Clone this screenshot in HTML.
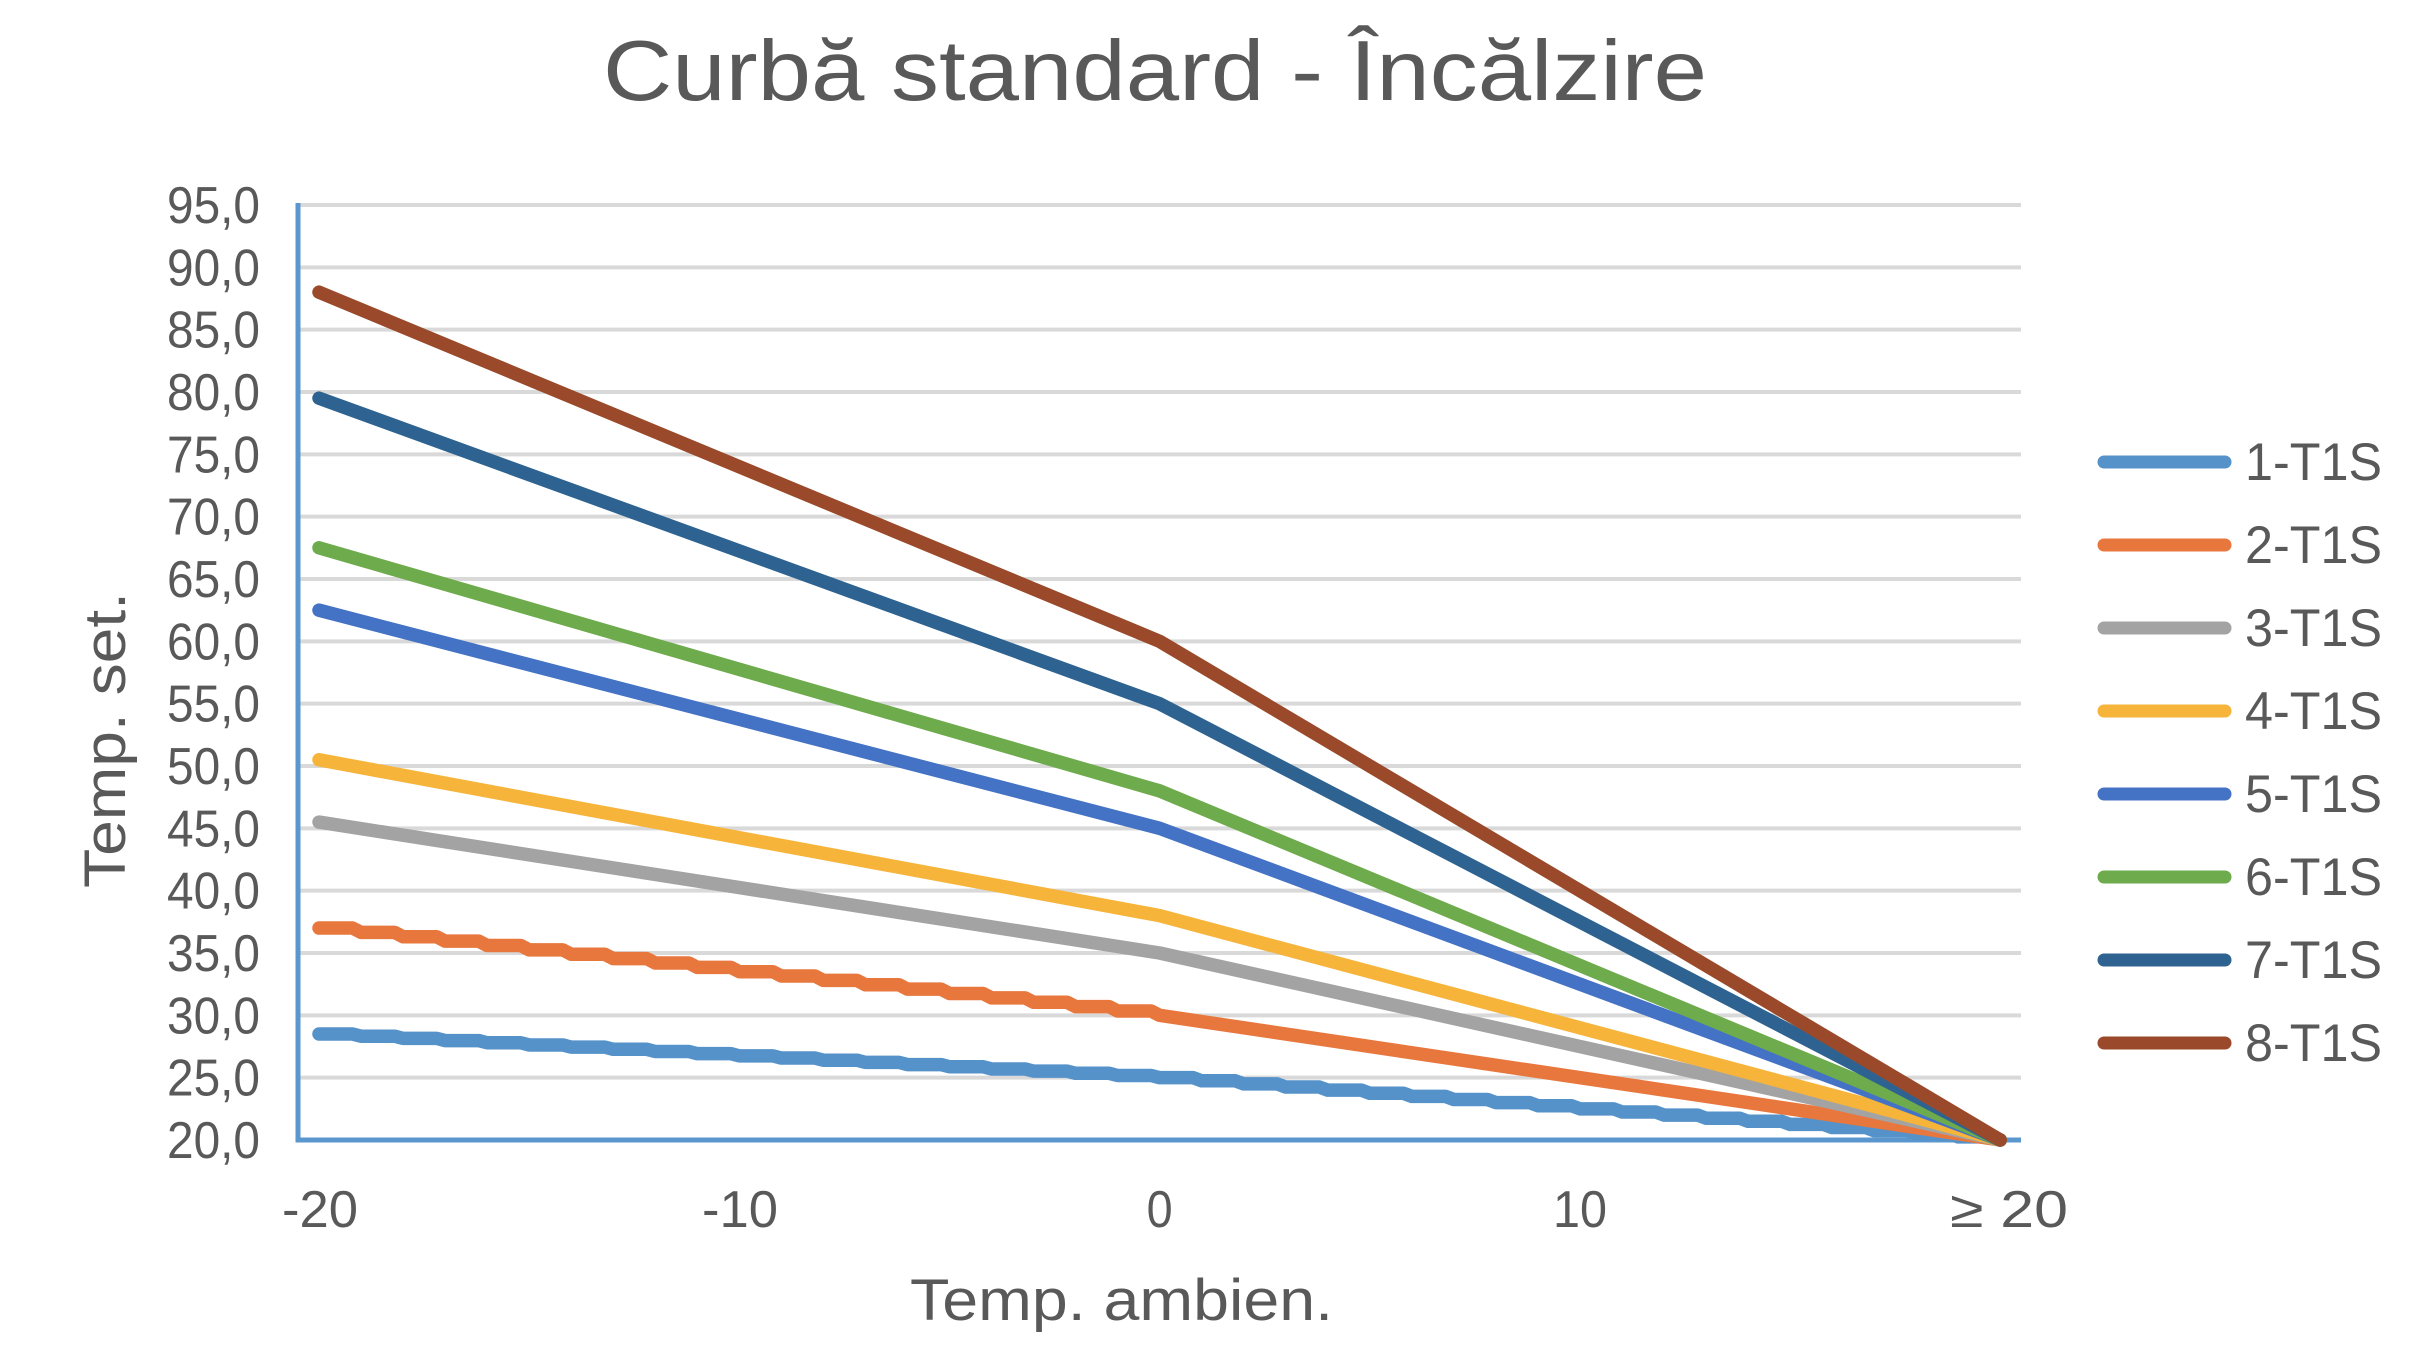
<!DOCTYPE html>
<html>
<head>
<meta charset="utf-8">
<style>
  html,body{margin:0;padding:0;background:#fff;}
  svg{display:block;}
  text{font-family:"Liberation Sans","DejaVu Sans",sans-serif;fill:#595959;}
</style>
</head>
<body>
<svg width="2423" height="1363" viewBox="0 0 2423 1363" xmlns="http://www.w3.org/2000/svg">
  <rect x="0" y="0" width="2423" height="1363" fill="#ffffff"/>

  <!-- Title -->
  <text x="603" y="100" font-size="85" textLength="1104" lengthAdjust="spacingAndGlyphs">Curbă standard - Încălzire</text>

  <!-- Gridlines -->
  <g stroke="#D9D9D9" stroke-width="4">
    <line x1="298" y1="1077.67" x2="2021" y2="1077.67"/>
    <line x1="298" y1="1015.33" x2="2021" y2="1015.33"/>
    <line x1="298" y1="953" x2="2021" y2="953"/>
    <line x1="298" y1="890.67" x2="2021" y2="890.67"/>
    <line x1="298" y1="828.33" x2="2021" y2="828.33"/>
    <line x1="298" y1="766" x2="2021" y2="766"/>
    <line x1="298" y1="703.67" x2="2021" y2="703.67"/>
    <line x1="298" y1="641.33" x2="2021" y2="641.33"/>
    <line x1="298" y1="579" x2="2021" y2="579"/>
    <line x1="298" y1="516.67" x2="2021" y2="516.67"/>
    <line x1="298" y1="454.33" x2="2021" y2="454.33"/>
    <line x1="298" y1="392" x2="2021" y2="392"/>
    <line x1="298" y1="329.67" x2="2021" y2="329.67"/>
    <line x1="298" y1="267.33" x2="2021" y2="267.33"/>
    <line x1="298" y1="205" x2="2021" y2="205"/>
  </g>

  <!-- Axes -->
  <g stroke="#5B97CF" stroke-width="5">
    <line x1="298" y1="203" x2="298" y2="1142.5"/>
    <line x1="295.5" y1="1140" x2="2021" y2="1140"/>
  </g>

  <!-- Y tick labels -->
  <g font-size="52" text-anchor="end">
    <text x="260" y="1158" textLength="93" lengthAdjust="spacingAndGlyphs">20,0</text>
    <text x="260" y="1095.67" textLength="93" lengthAdjust="spacingAndGlyphs">25,0</text>
    <text x="260" y="1033.33" textLength="93" lengthAdjust="spacingAndGlyphs">30,0</text>
    <text x="260" y="971" textLength="93" lengthAdjust="spacingAndGlyphs">35,0</text>
    <text x="260" y="908.67" textLength="93" lengthAdjust="spacingAndGlyphs">40,0</text>
    <text x="260" y="846.33" textLength="93" lengthAdjust="spacingAndGlyphs">45,0</text>
    <text x="260" y="784" textLength="93" lengthAdjust="spacingAndGlyphs">50,0</text>
    <text x="260" y="721.67" textLength="93" lengthAdjust="spacingAndGlyphs">55,0</text>
    <text x="260" y="659.33" textLength="93" lengthAdjust="spacingAndGlyphs">60,0</text>
    <text x="260" y="597" textLength="93" lengthAdjust="spacingAndGlyphs">65,0</text>
    <text x="260" y="534.67" textLength="93" lengthAdjust="spacingAndGlyphs">70,0</text>
    <text x="260" y="472.33" textLength="93" lengthAdjust="spacingAndGlyphs">75,0</text>
    <text x="260" y="410" textLength="93" lengthAdjust="spacingAndGlyphs">80,0</text>
    <text x="260" y="347.67" textLength="93" lengthAdjust="spacingAndGlyphs">85,0</text>
    <text x="260" y="285.33" textLength="93" lengthAdjust="spacingAndGlyphs">90,0</text>
    <text x="260" y="223" textLength="93" lengthAdjust="spacingAndGlyphs">95,0</text>
  </g>

  <!-- X tick labels -->
  <g font-size="52" text-anchor="middle">
    <text x="320" y="1227" textLength="76" lengthAdjust="spacingAndGlyphs">-20</text>
    <text x="740" y="1227" textLength="76" lengthAdjust="spacingAndGlyphs">-10</text>
    <text x="1159.6" y="1227" textLength="26" lengthAdjust="spacingAndGlyphs">0</text>
    <text x="1580" y="1227" textLength="54" lengthAdjust="spacingAndGlyphs">10</text>
    <text x="2009" y="1227" textLength="118" lengthAdjust="spacingAndGlyphs">≥ 20</text>
  </g>

  <!-- Axis titles -->
  <text transform="translate(125,740) rotate(-90)" text-anchor="middle" font-size="58" textLength="296" lengthAdjust="spacingAndGlyphs">Temp. set.</text>
  <text x="1121.5" y="1320" text-anchor="middle" font-size="58" textLength="423" lengthAdjust="spacingAndGlyphs">Temp. ambien.</text>

  <!-- Series -->
  <g fill="none" stroke-width="13.5" stroke-linecap="round" stroke-linejoin="round">
    <!-- 1-T1S (stepped) -->
    <path stroke="#5592C9" d="M319,1034.03
      h33.6 l8.43,2.182 h33.6 l8.43,2.182 h33.6 l8.43,2.182 h33.6 l8.43,2.182 h33.6 l8.43,2.182
      h33.6 l8.43,2.182 h33.6 l8.43,2.182 h33.6 l8.43,2.182 h33.6 l8.43,2.182 h33.6 l8.43,2.182
      h33.6 l8.43,2.182 h33.6 l8.43,2.182 h33.6 l8.43,2.182 h33.6 l8.43,2.182 h33.6 l8.43,2.182
      h33.6 l8.43,2.182 h33.6 l8.43,2.182 h33.6 l8.43,2.182 h33.6 l8.43,2.182 h33.6 l8.43,2.182
      h33.6 l8.43,3.117 h33.6 l8.43,3.117 h33.6 l8.43,3.117 h33.6 l8.43,3.117 h33.6 l8.43,3.117
      h33.6 l8.43,3.117 h33.6 l8.43,3.117 h33.6 l8.43,3.117 h33.6 l8.43,3.117 h33.6 l8.43,3.117
      h33.6 l8.43,3.117 h33.6 l8.43,3.117 h33.6 l8.43,3.117 h33.6 l8.43,3.117 h33.6 l8.43,3.117
      h33.6 l8.43,3.117 h33.6 l8.43,3.117 h33.6 l8.43,3.117 h33.6 l8.43,3.117 h33.6 l8.43,3.117"/>
    <!-- 2-T1S (stepped left half) -->
    <path stroke="#E8773D" d="M319,928.06
      h33.6 l8.43,4.363 h33.6 l8.43,4.363 h33.6 l8.43,4.363 h33.6 l8.43,4.363 h33.6 l8.43,4.363
      h33.6 l8.43,4.363 h33.6 l8.43,4.363 h33.6 l8.43,4.363 h33.6 l8.43,4.363 h33.6 l8.43,4.363
      h33.6 l8.43,4.363 h33.6 l8.43,4.363 h33.6 l8.43,4.363 h33.6 l8.43,4.363 h33.6 l8.43,4.363
      h33.6 l8.43,4.363 h33.6 l8.43,4.363 h33.6 l8.43,4.363 h33.6 l8.43,4.363 h33.6 l8.43,4.363
      L2000.2,1140"/>
    <!-- 3-T1S -->
    <polyline stroke="#A3A3A3" points="319,822.1 1159.6,953 2000.2,1140"/>
    <!-- 4-T1S -->
    <polyline stroke="#F6B43A" points="319,759.8 1159.6,915.6 2000.2,1140"/>
    <!-- 5-T1S -->
    <polyline stroke="#4472C4" points="319,610.2 1159.6,828.3 2000.2,1140"/>
    <!-- 6-T1S -->
    <polyline stroke="#6EAB4C" points="319,547.8 1159.6,790.9 2000.2,1140"/>
    <!-- 7-T1S -->
    <polyline stroke="#2E6391" points="319,398.2 1159.6,703.7 2000.2,1140"/>
    <!-- 8-T1S -->
    <polyline stroke="#9A4A2A" points="319,292.2 1159.6,641.3 2000.2,1140"/>
  </g>

  <!-- Legend -->
  <g stroke-width="13" stroke-linecap="round">
    <line x1="2104" y1="462" x2="2225" y2="462" stroke="#5592C9"/>
    <line x1="2104" y1="545" x2="2225" y2="545" stroke="#E8773D"/>
    <line x1="2104" y1="628" x2="2225" y2="628" stroke="#A3A3A3"/>
    <line x1="2104" y1="711" x2="2225" y2="711" stroke="#F6B43A"/>
    <line x1="2104" y1="794" x2="2225" y2="794" stroke="#4472C4"/>
    <line x1="2104" y1="877" x2="2225" y2="877" stroke="#6EAB4C"/>
    <line x1="2104" y1="960" x2="2225" y2="960" stroke="#2E6391"/>
    <line x1="2104" y1="1043" x2="2225" y2="1043" stroke="#9A4A2A"/>
  </g>
  <g font-size="53">
    <text x="2245" y="480" textLength="137" lengthAdjust="spacingAndGlyphs">1-T1S</text>
    <text x="2245" y="563" textLength="137" lengthAdjust="spacingAndGlyphs">2-T1S</text>
    <text x="2245" y="646" textLength="137" lengthAdjust="spacingAndGlyphs">3-T1S</text>
    <text x="2245" y="729" textLength="137" lengthAdjust="spacingAndGlyphs">4-T1S</text>
    <text x="2245" y="812" textLength="137" lengthAdjust="spacingAndGlyphs">5-T1S</text>
    <text x="2245" y="895" textLength="137" lengthAdjust="spacingAndGlyphs">6-T1S</text>
    <text x="2245" y="978" textLength="137" lengthAdjust="spacingAndGlyphs">7-T1S</text>
    <text x="2245" y="1061" textLength="137" lengthAdjust="spacingAndGlyphs">8-T1S</text>
  </g>
</svg>
</body>
</html>
